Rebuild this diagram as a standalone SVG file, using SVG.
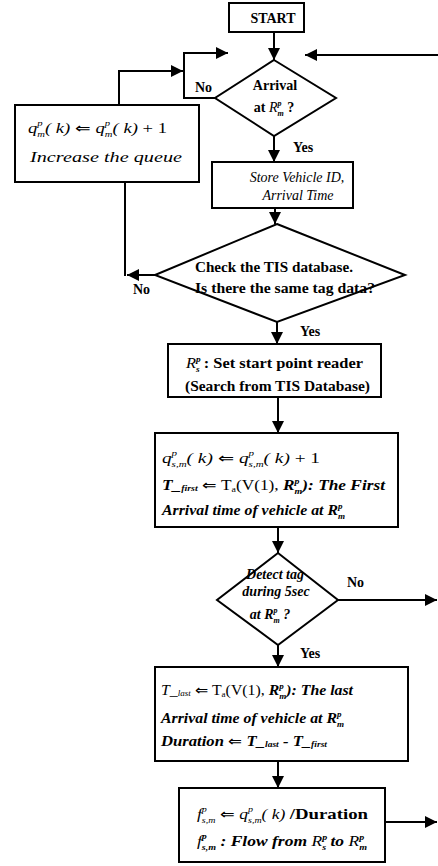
<svg xmlns="http://www.w3.org/2000/svg" width="438" height="866" viewBox="0 0 438 866" font-family="'Liberation Serif', 'Times New Roman', serif">
<style>
text{font-family:"Liberation Serif","Times New Roman",serif;fill:#000}
.b{font-weight:bold;font-size:14px}
.i{font-style:italic;font-size:14px}
.bi{font-weight:bold;font-style:italic;font-size:14px}
.r{font-weight:normal;font-style:normal}
.s{font-size:8px}
.box{fill:#fff;stroke:#000;stroke-width:2}
.c{fill:none;stroke:#000;stroke-width:2}
.mid{text-anchor:middle}
</style>
<defs>
<marker id="ah" markerUnits="userSpaceOnUse" markerWidth="12" markerHeight="12" refX="12" refY="6" orient="auto">
<path d="M0,0 L12,6 L0,12 z" fill="#000"/>
</marker>
</defs>
<rect width="438" height="866" fill="#fff"/>

<g id="connectors" class="c" marker-end="url(#ah)">
<path d="M274,32 V60"/>
<path d="M215,98 H184 V53 H228"/>
<path d="M119,105 V71 H183"/>
<path d="M438,55 H305"/>
<path d="M274,136 V162"/>
<path d="M275,208 V224"/>
<path d="M155,275 H127"/>
<path d="M125,182 V276" marker-end="none"/>
<path d="M277,322 V344"/>
<path d="M278,397 V433"/>
<path d="M278,527 V553"/>
<path d="M338,600 H437"/>
<path d="M278,645 V667"/>
<path d="M278,761 V788"/>
<path d="M385,822 H437"/>
</g>

<g id="labels">
<text x="195" y="92" class="b" font-size="13">No</text>
<text x="293" y="152" class="b" font-size="13">Yes</text>
<text x="133" y="294" class="b" font-size="13">No</text>
<text x="300" y="336" class="b" font-size="13">Yes</text>
<text x="347" y="587" class="b" font-size="13">No</text>
<text x="300" y="658" class="b" font-size="13">Yes</text>
</g>

<g id="start">
<rect x="229" y="3" width="75" height="29" class="box"/>
<text x="273" y="23" class="b mid" font-size="13">START</text>
</g>

<g id="arrival">
<polygon points="274,60 336,98 274,136 215,98" class="box"/>
<text x="275" y="90" class="b mid" font-size="13">Arrival</text>
<text x="274" y="112" class="b mid" font-size="13">at <tspan class="i" font-weight="normal">R</tspan><tspan class="s" font-style="italic" dy="-6">p</tspan><tspan class="s" font-style="italic" dx="-4" dy="10">m</tspan><tspan dy="-4"> ?</tspan></text>
</g>

<g id="queue">
<rect x="15" y="105" width="184" height="77" class="box"/>
<text x="28" y="133" class="i" font-size="17" textLength="139" lengthAdjust="spacingAndGlyphs">q<tspan class="s" dy="-7">p</tspan><tspan class="s" dx="-4" dy="11">m</tspan><tspan dy="-4">( k) </tspan><tspan class="r">⇐</tspan> q<tspan class="s" dy="-7">p</tspan><tspan class="s" dx="-4" dy="11">m</tspan><tspan dy="-4">( k) </tspan><tspan class="r">+ 1</tspan></text>
<text x="30" y="162" class="i" font-size="17" textLength="152" lengthAdjust="spacingAndGlyphs">Increase the queue</text>
</g>

<g id="store">
<rect x="212" y="162" width="141" height="46" class="box"/>
<text x="297" y="182" class="i mid" font-size="12.5">Store Vehicle ID,</text>
<text x="298" y="200" class="i mid" font-size="12.5">Arrival Time</text>
</g>

<g id="check">
<polygon points="277,224 405,275 277,322 155,275" class="box"/>
<text x="195" y="272" class="b" textLength="158" lengthAdjust="spacingAndGlyphs">Check the TIS database.</text>
<text x="195" y="293" class="b" textLength="180" lengthAdjust="spacingAndGlyphs">Is there the same tag data?</text>
</g>

<g id="startreader">
<rect x="168" y="344" width="213" height="53" class="box"/>
<text x="186" y="368" class="b" font-size="15" textLength="177" lengthAdjust="spacingAndGlyphs"><tspan class="i" font-weight="normal">R</tspan><tspan class="s" font-style="italic" dy="-6">p</tspan><tspan class="s" font-style="italic" dx="-4" dy="10">s</tspan><tspan dy="-4">  : Set start point reader</tspan></text>
<text x="185" y="391" class="b" font-size="15" textLength="185" lengthAdjust="spacingAndGlyphs">(Search from TIS Database)</text>
</g>

<g id="firstarrival">
<rect x="155" y="433" width="243" height="94" class="box"/>
<text x="162" y="463" class="i" font-size="18" textLength="158" lengthAdjust="spacingAndGlyphs">q<tspan class="s" dy="-7">p</tspan><tspan class="s" dx="-4" dy="11">s,m</tspan><tspan dy="-4">( k) </tspan><tspan class="r">⇐</tspan> q<tspan class="s" dy="-7">p</tspan><tspan class="s" dx="-4" dy="11">s,m</tspan><tspan dy="-4">( k) </tspan><tspan class="r">+ 1</tspan></text>
<text x="162" y="490" class="bi" font-size="15" textLength="223" lengthAdjust="spacingAndGlyphs">T_<tspan class="s" dy="1">first</tspan><tspan dy="-1"> </tspan><tspan class="r">⇐ T</tspan><tspan class="s r" dy="2">a</tspan><tspan class="r" dy="-2">(V(1), </tspan>R<tspan class="s" dy="-6">p</tspan><tspan class="s" dx="-4" dy="10">m</tspan><tspan dy="-4">): The First</tspan></text>
<text x="162" y="515" class="bi" font-size="15" textLength="183" lengthAdjust="spacingAndGlyphs">Arrival time of vehicle at  R<tspan class="s" dy="-6">p</tspan><tspan class="s" dx="-4" dy="10">m</tspan></text>
</g>

<g id="detect">
<polygon points="278,553 338,600 278,645 217,600" class="box"/>
<text x="275" y="579" class="bi mid" font-size="11.5">Detect tag</text>
<text x="276" y="596" class="bi mid" font-size="11.5">during 5sec</text>
<text x="270" y="619" class="bi mid" font-size="11.5">at  R<tspan class="s" dy="-6">p</tspan><tspan class="s" dx="-4" dy="10">m</tspan><tspan dy="-4"> ?</tspan></text>
</g>

<g id="lastarrival">
<rect x="155" y="667" width="253" height="94" class="box"/>
<text x="161" y="695" class="bi" font-size="15" textLength="192" lengthAdjust="spacingAndGlyphs"><tspan class="i" font-weight="normal">T_</tspan><tspan class="s" font-weight="normal" dy="1">last</tspan><tspan dy="-1"> </tspan><tspan class="r">⇐ T</tspan><tspan class="s r" dy="2">a</tspan><tspan class="r" dy="-2">(V(1), </tspan>R<tspan class="s" dy="-6">p</tspan><tspan class="s" dx="-4" dy="10">m</tspan><tspan dy="-4">): The last</tspan></text>
<text x="161" y="723" class="bi" font-size="15" textLength="183" lengthAdjust="spacingAndGlyphs">Arrival time of vehicle at  R<tspan class="s" dy="-6">p</tspan><tspan class="s" dx="-4" dy="10">m</tspan></text>
<text x="161" y="746" class="bi" font-size="15" textLength="166" lengthAdjust="spacingAndGlyphs">Duration <tspan class="r">⇐</tspan>  T_<tspan class="s" dy="1">last</tspan><tspan dy="-1">  -  T_</tspan><tspan class="s" dy="1">first</tspan></text>
</g>

<g id="flow">
<rect x="179" y="788" width="206" height="74" class="box"/>
<text x="197" y="819" class="i" font-size="16" textLength="171" lengthAdjust="spacingAndGlyphs">f<tspan class="s" dy="-7">p</tspan><tspan class="s" dx="-4" dy="11">s,m</tspan><tspan class="r" dy="-4">  ⇐  </tspan>q<tspan class="s" dy="-7">p</tspan><tspan class="s" dx="-4" dy="11">s,m</tspan><tspan dy="-4">( k) </tspan><tspan font-weight="bold" font-style="normal" font-size="15">/Duration</tspan></text>
<text x="197" y="846" class="bi" font-size="15" textLength="170" lengthAdjust="spacingAndGlyphs"><tspan class="i" font-weight="normal" font-size="16">f</tspan><tspan class="s" dy="-7">p</tspan><tspan class="s" dx="-4" dy="11">s,m</tspan><tspan dy="-4"> : Flow from  </tspan><tspan font-weight="normal">R</tspan><tspan class="s" dy="-6">p</tspan><tspan class="s" dx="-4" dy="10">s</tspan><tspan dy="-4">  to  </tspan><tspan font-weight="normal">R</tspan><tspan class="s" dy="-6">p</tspan><tspan class="s" dx="-4" dy="10">m</tspan></text>
</g>
</svg>
